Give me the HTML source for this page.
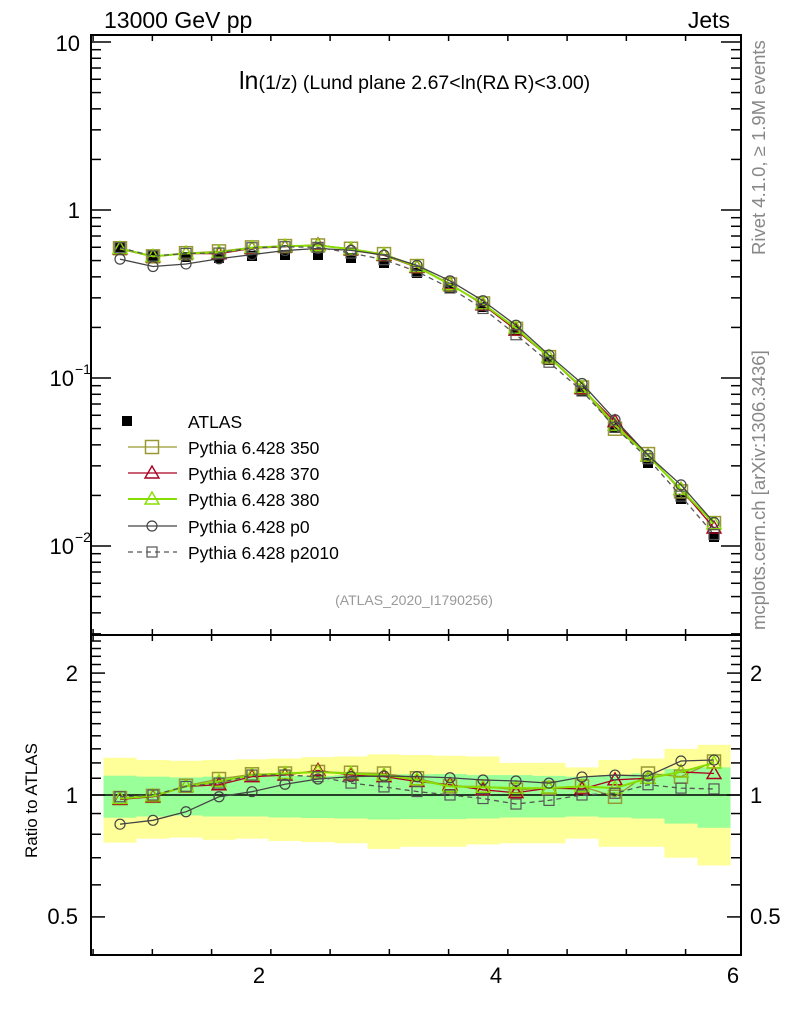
<!DOCTYPE html>
<html><head><meta charset="utf-8"><style>
body{margin:0;background:#fff}
svg text{font-family:"Liberation Sans",sans-serif}
</style></head><body>
<svg id="s" width="786" height="1024" xmlns="http://www.w3.org/2000/svg"></svg>
<script>
const S=document.getElementById('s');const NS='http://www.w3.org/2000/svg';
function el(t,a,txt){const e=document.createElementNS(NS,t);for(const k in a)e.setAttribute(k,a[k]);if(txt!==undefined)e.textContent=txt;S.appendChild(e);return e;}
const L=91,R=741,T=35,M=635,B=955;
const X=v=>259+(v-2)*118.5;
const Y=v=>210-168*Math.log10(v);
const RY=r=>795-405*Math.log10(r);
const px=[];for(let i=0;i<19;i++)px.push(120+33*i);
const ay=[247,256,257,258,256,255,255,258,263,273,288,307,331,360,391,428,463,499,537];
const atl=ay.map(y=>Math.pow(10,(210-y)/168));
const yhi=[1.236,1.22,1.215,1.22,1.225,1.23,1.24,1.245,1.26,1.255,1.25,1.245,1.2,1.2,1.17,1.22,1.23,1.3,1.33];
const ylo=[0.763,0.78,0.785,0.775,0.78,0.77,0.765,0.76,0.736,0.745,0.745,0.755,0.76,0.76,0.78,0.745,0.745,0.70,0.67];
const ghi=[1.116,1.11,1.105,1.11,1.11,1.115,1.115,1.12,1.125,1.125,1.127,1.12,1.12,1.115,1.11,1.12,1.13,1.16,1.17];
const glo=[0.879,0.885,0.89,0.885,0.885,0.88,0.877,0.875,0.87,0.872,0.872,0.875,0.88,0.88,0.885,0.88,0.875,0.85,0.83];
for(let i=0;i<19;i++){const x0=px[i]-16.5;
el('rect',{x:x0,y:RY(yhi[i]),width:33,height:RY(ylo[i])-RY(yhi[i]),fill:'#ffff99'});}
for(let i=0;i<19;i++){const x0=px[i]-16.5;
el('rect',{x:x0,y:RY(ghi[i]),width:33,height:RY(glo[i])-RY(ghi[i]),fill:'#99ff99'});}
el('line',{x1:L,x2:R,y1:795,y2:795,stroke:'#000','stroke-width':1.5});
const series=[
{c:'#999933',m:'sq',w:1.3,d:'',r:[0.983,0.995,1.054,1.095,1.125,1.13,1.14,1.135,1.13,1.10,1.05,1.05,1.03,1.04,1.05,0.99,1.13,1.11,1.21]},
{c:'#aa0022',m:'tri',w:1.3,d:'',r:[0.975,0.99,1.05,1.06,1.11,1.12,1.15,1.12,1.11,1.08,1.06,1.03,1.013,1.04,1.035,1.09,1.10,1.14,1.13]},
{c:'#88dd00',m:'tri',w:2,d:'',r:[0.98,0.995,1.05,1.08,1.12,1.13,1.14,1.13,1.12,1.09,1.05,1.045,1.04,1.04,1.05,1.04,1.10,1.14,1.20]},
{c:'#444444',m:'circ',w:1.3,d:'',r:[0.847,0.866,0.909,0.99,1.019,1.063,1.095,1.11,1.114,1.11,1.103,1.089,1.083,1.07,1.108,1.12,1.114,1.213,1.22]},
{c:'#555555',m:'sqs',w:1.3,d:'5,4',r:[0.99,1.0,1.05,1.07,1.12,1.12,1.11,1.07,1.047,1.02,1.0,0.98,0.95,0.97,1.0,1.01,1.06,1.04,1.035]}];
function marker(m,x,y,c){
 if(m=='sq')el('rect',{x:x-6.5,y:y-6.5,width:13,height:13,fill:'none',stroke:c,'stroke-width':1.5});
 if(m=='sqs')el('rect',{x:x-5,y:y-5,width:10,height:10,fill:'none',stroke:c,'stroke-width':1.2});
 if(m=='tri')el('polygon',{points:`${x},${y-7} ${x-7},${y+5} ${x+7},${y+5}`,fill:'none',stroke:c,'stroke-width':1.4});
 if(m=='circ')el('circle',{cx:x,cy:y,r:5,fill:'none',stroke:c,'stroke-width':1.2});
}
function draw(ys,s){el('polyline',{points:px.map((x,i)=>x+','+ys[i]).join(' '),fill:'none',stroke:s.c,'stroke-width':s.w,'stroke-dasharray':s.d});px.forEach((x,i)=>marker(s.m,x,ys[i],s.c));}
for(let i=0;i<19;i++)el('rect',{x:px[i]-5,y:ay[i]-5,width:10,height:10,fill:'#000'});
series.forEach(s=>draw(s.r.map((r,i)=>Y(atl[i]*r)),s));
series.forEach(s=>draw(s.r.map(r=>RY(r)),s));
el('rect',{x:L,y:T,width:R-L,height:M-T,fill:'none',stroke:'#000','stroke-width':2});
el('rect',{x:L,y:M,width:R-L,height:B-M,fill:'none',stroke:'#000','stroke-width':2});
for(let v=0.6;v<=6.05;v+=0.5){const x=X(v);const major=Math.abs(v-Math.round(v))<0.01&&Math.round(v)%2==0;const len=major?12:6;
 if(x<L+2||x>R-2)continue;
 [[T,1],[M,1],[M,-1],[B,-1]].forEach(([y,d])=>el('line',{x1:x,x2:x,y1:y,y2:y+d*len,stroke:'#000','stroke-width':1.5}));}
[2,4,6].forEach(v=>el('text',{x:X(v),y:983,'font-size':22,'text-anchor':'middle'},v));
for(let e=-3;e<=1;e++)for(let k=1;k<10;k++){const v=k*Math.pow(10,e);const y=Y(v);if(y<T||y>M)continue;const len=k==1?20:10;
 el('line',{x1:L,x2:L+len,y1:y,y2:y,stroke:'#000','stroke-width':1.5});el('line',{x1:R,x2:R-len,y1:y,y2:y,stroke:'#000','stroke-width':1.5});}
el('text',{x:80,y:51,'font-size':22,'text-anchor':'end'},'10');
el('text',{x:80,y:218,'font-size':22,'text-anchor':'end'},'1');
el('text',{x:74,y:386,'font-size':22,'text-anchor':'end'},'10');el('text',{x:75,y:374,'font-size':14},'−1');
el('text',{x:74,y:554,'font-size':22,'text-anchor':'end'},'10');el('text',{x:75,y:542,'font-size':14},'−2');
[0.5,0.6,0.7,0.8,0.9,1,1.1,1.2,1.3,1.4,1.5,1.6,1.7,1.8,1.9,2,2.1,2.2,2.3,2.4].forEach(v=>{const y=RY(v);if(y<M||y>B)return;const len=(v==0.5||v==1||v==2)?14:10;
 el('line',{x1:L,x2:L+len,y1:y,y2:y,stroke:'#000','stroke-width':1.5});el('line',{x1:R,x2:R-len,y1:y,y2:y,stroke:'#000','stroke-width':1.5});});
[['2',673],['1',795],['0.5',916]].forEach(([t,y])=>{el('text',{x:78,y:y+8,'font-size':22,'text-anchor':'end'},t);el('text',{x:750,y:y+8,'font-size':22},t);});
el('text',{x:104,y:28,'font-size':23},'13000 GeV pp');
el('text',{x:730,y:28,'font-size':23,'text-anchor':'end'},'Jets');
const t=el('text',{x:239,y:89,'font-size':19.5});
t.innerHTML='<tspan font-size="25">ln</tspan>(1/z) (Lund plane 2.67&lt;ln(RΔ R)&lt;3.00)';
el('text',{x:414,y:605,'font-size':14,fill:'#999','text-anchor':'middle'},'(ATLAS_2020_I1790256)');
el('text',{x:0,y:0,'font-size':18.5,fill:'#888',transform:'translate(765,255) rotate(-90)'},'Rivet 4.1.0, ≥ 1.9M events');
el('text',{x:0,y:0,'font-size':18.5,fill:'#888',transform:'translate(765,630) rotate(-90)'},'mcplots.cern.ch [arXiv:1306.3436]');
el('text',{x:0,y:0,'font-size':17,transform:'translate(37,858) rotate(-90)'},'Ratio to ATLAS');
const ly=[421,447,473,499,526,552];
el('rect',{x:122,y:416,width:10,height:10,fill:'#000'});
const names=['Pythia 6.428 350','Pythia 6.428 370','Pythia 6.428 380','Pythia 6.428 p0','Pythia 6.428 p2010'];
el('text',{x:188,y:428,'font-size':17.5},'ATLAS');
series.forEach((s,i)=>{const y=ly[i+1];el('line',{x1:128,x2:177,y1:y,y2:y,stroke:s.c,'stroke-width':s.w,'stroke-dasharray':s.d});marker(s.m,152,y,s.c);
 el('text',{x:188,y:y+7,'font-size':17.5},names[i]);});
</script>
</body></html>
